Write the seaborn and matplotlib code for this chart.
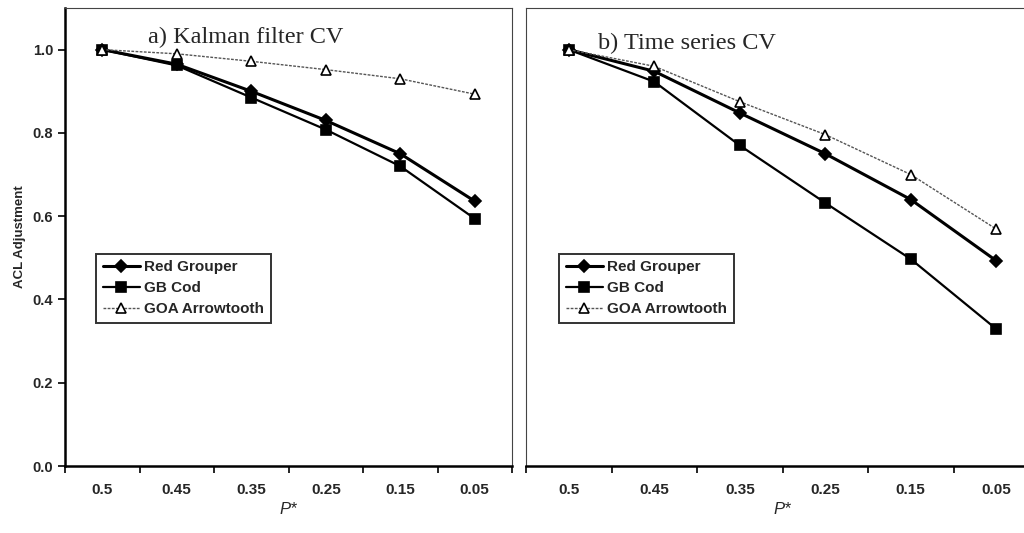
import matplotlib
matplotlib.use("Agg")
import matplotlib.pyplot as plt
import matplotlib.transforms as mtrans
import seaborn as sns
import pandas as pd
import numpy as np

categories = ["0.5", "0.45", "0.35", "0.25", "0.15", "0.05"]
series_names = ["Red Grouper", "GB Cod", "GOA Arrowtooth"]

kalman_red = [1.0, 0.965, 0.90, 0.83, 0.75, 0.636]
kalman_cod = [1.0, 0.962, 0.885, 0.808, 0.72, 0.594]
kalman_goa = [1.0, 0.99, 0.972, 0.952, 0.93, 0.893]

ts_red = [1.0, 0.948, 0.848, 0.75, 0.64, 0.493]
ts_cod = [1.0, 0.923, 0.77, 0.632, 0.497, 0.329]
ts_goa = [1.0, 0.96, 0.875, 0.796, 0.70, 0.569]

titles = ["a) Kalman filter CV", "b) Time series CV"]
y_ticks = [0.0, 0.2, 0.4, 0.6, 0.8, 1.0]

sns.set_style("ticks")
plt.rcParams["font.family"] = ["Liberation Sans", "DejaVu Sans"]

fig = plt.figure(figsize=(10.24, 5.33), dpi=100)
W, H = 1024, 533
ax1 = fig.add_axes([65 / W, 67 / H, 447 / W, 458 / H])
ax2 = fig.add_axes([526 / W, 67 / H, 513 / W, 458 / H])

styles = {
    "Red Grouper": dict(color="black", lw=2.2, marker="D", ms=6.5, mfc="black", mec="black", ls="-"),
    "GB Cod": dict(color="black", lw=1.6, marker="s", ms=6.5, mfc="black", mec="black", ls="-"),
    "GOA Arrowtooth": dict(color="#555555", lw=1.0, marker="^", ms=7.5, mfc="white", mec="black", ls=(0, (2, 1))),
}

def build(red, cod, goa):
    rows = []
    for name, vals in zip(series_names, [red, cod, goa]):
        for c, v in zip(categories, vals):
            rows.append({"P": c, "val": v, "series": name})
    return pd.DataFrame(rows)

datasets = [build(kalman_red, kalman_cod, kalman_goa), build(ts_red, ts_cod, ts_goa)]

for i, (ax, df) in enumerate(zip([ax1, ax2], datasets)):
    for name in series_names:
        sub = df[df["series"] == name]
        st = styles[name]
        sns.lineplot(data=sub, x="P", y="val", ax=ax, label=name, sort=False,
                     color=st["color"], linewidth=st["lw"], marker=st["marker"],
                     markersize=st["ms"], markerfacecolor=st["mfc"], markeredgecolor=st["mec"],
                     markeredgewidth=1.2, linestyle=st["ls"])
    ax.set_xlim(-0.5, 5.5)
    ax.set_ylim(0, 1.1)
    ax.set_xticks(range(len(categories)))
    ax.set_xticklabels(categories, fontsize=11, fontweight="bold")
    ax.set_xticks(np.arange(-0.5, 6.0, 1.0), minor=True)
    ax.tick_params(axis="x", which="major", length=0, pad=12)
    ax.tick_params(axis="x", which="minor", length=5, width=1.2, direction="out", color="black")
    ax.set_xlabel("P*", fontstyle="italic", fontsize=12, labelpad=4)
    ax.set_ylabel("")
    for side in ["top", "right"]:
        ax.spines[side].set_visible(True)
        ax.spines[side].set_linestyle((0, (1, 1)))
        ax.spines[side].set_linewidth(0.8)
        ax.spines[side].set_color("#444444")
    ax.spines["bottom"].set_linewidth(1.8)
    ax.spines["bottom"].set_color("black")

t1 = mtrans.blended_transform_factory(ax1.transAxes, ax1.transData)
ax1.text(0.186, 1.03, titles[0], transform=t1, fontsize=17.5,
         family=["Liberation Serif", "DejaVu Serif"], va="center", ha="left")
t2 = mtrans.blended_transform_factory(ax2.transAxes, ax2.transData)
ax2.text(0.14, 1.015, titles[1], transform=t2, fontsize=17.5,
         family=["Liberation Serif", "DejaVu Serif"], va="center", ha="left")

ax1.set_yticks(y_ticks)
ax1.set_yticklabels([f"{v:.1f}" for v in y_ticks], fontsize=10.5, fontweight="bold")
ax1.tick_params(axis="y", length=5, width=1.2, direction="out", color="black")
ax1.spines["left"].set_linewidth(1.8)
ax1.spines["left"].set_color("black")
ax1.set_ylabel("ACL Adjustment", fontsize=9.5, fontweight="bold", labelpad=5)

ax2.set_yticks([])
ax2.spines["left"].set_linestyle((0, (1, 1)))
ax2.spines["left"].set_linewidth(0.8)
ax2.spines["left"].set_color("#444444")

for ax, anchor in [(ax1, (96, 323)), (ax2, (559, 323))]:
    leg = ax.legend(loc="lower left", bbox_to_anchor=(anchor[0] / W, (H - anchor[1]) / H),
                    bbox_transform=fig.transFigure, frameon=True, fancybox=False,
                    prop={"size": 11, "weight": "bold"}, handlelength=2.4, handletextpad=0.3,
                    borderpad=0.45, labelspacing=0.45, borderaxespad=0)
    leg.get_frame().set_edgecolor("black")
    leg.get_frame().set_linewidth(1.4)

fig.savefig("out.png", dpi=100, facecolor="white")
